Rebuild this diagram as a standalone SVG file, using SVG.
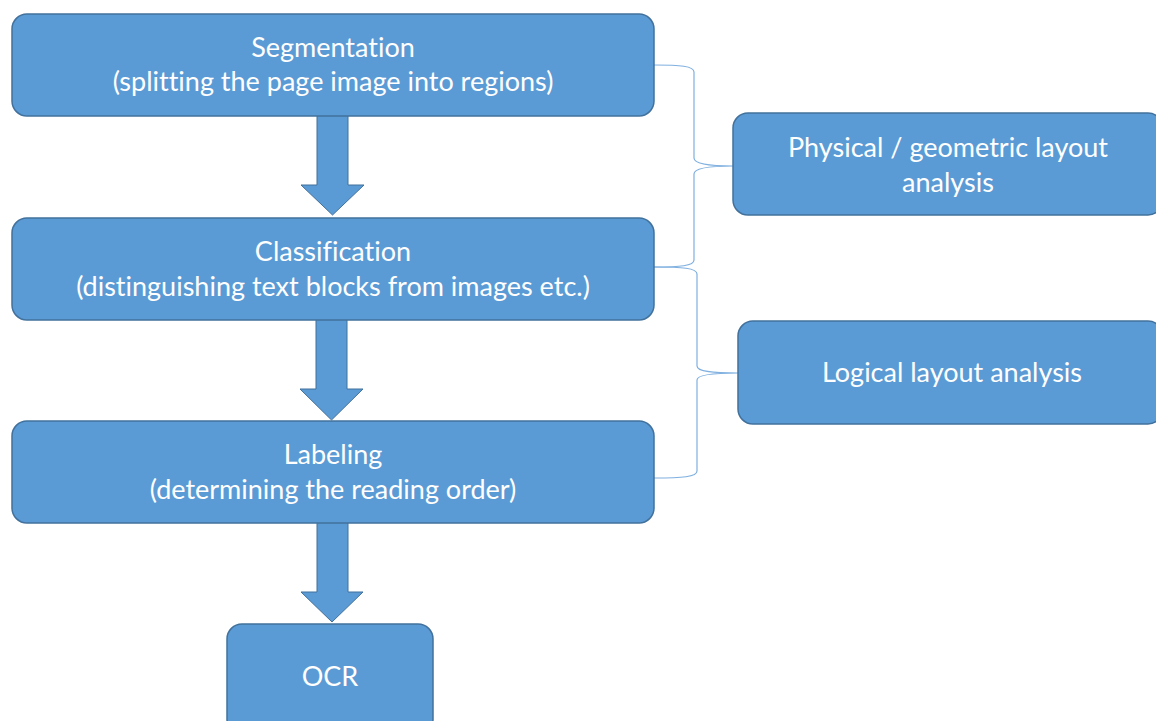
<svg xmlns="http://www.w3.org/2000/svg" width="1156" height="721" viewBox="0 0 1156 721">
  <style>
    .box { fill: #5B9BD5; stroke: #41719C; stroke-width: 1.5; }
    .arrow { fill: #5B9BD5; stroke: #41719C; stroke-width: 1; }
    .brace { fill: none; stroke: #7FB0E0; stroke-width: 1.2; }
    .label { font-family: Lato, "Open Sans", "Liberation Sans", sans-serif; font-size: 27px; fill: #FFFFFF; text-anchor: middle; font-variant-ligatures: none; }
  </style>
  <rect width="1156" height="721" fill="#FFFFFF"/>

  <g id="connectors">
    <path class="arrow" d="M317,115 L348,115 L348,185 L364,185 L332.5,215 L301,185 L317,185 Z"/>
    <path class="arrow" d="M316,319 L347,319 L347,389 L363,389 L331.5,420 L300,389 L316,389 Z"/>
    <path class="arrow" d="M317,522 L348,522 L348,592 L363,592 L332,622 L301,592 L317,592 Z"/>
    <path class="brace" d="M654,65 C680,65 694,66 694,72 L694,158 C694,164 710,166 733,166 C710,166 694,168 694,174 L694,260 C694,266 680,267 654,267"/>
    <path class="brace" d="M654,267 C682,267 697,268 697,274 L697,366 C697,372 714,373 738,373 C714,373 697,375 697,380 L697,471 C697,477 682,478 654,478"/>
  </g>

  <g id="segmentation">
    <rect class="box" x="12" y="14" width="642" height="102" rx="15"/>
    <text class="label" x="333" y="57">Segmentation</text>
    <text class="label" x="333" y="91">(splitting the page image into regions)</text>
  </g>

  <g id="classification">
    <rect class="box" x="12" y="218" width="642" height="102" rx="15"/>
    <text class="label" x="333" y="261">Classification</text>
    <text class="label" x="333" y="296">(distinguishing text blocks from images etc.)</text>
  </g>

  <g id="labeling">
    <rect class="box" x="12" y="421" width="642" height="102" rx="15"/>
    <text class="label" x="333" y="464">Labeling</text>
    <text class="label" x="333" y="499">(determining the reading order)</text>
  </g>

  <g id="ocr">
    <rect class="box" x="227" y="624" width="206" height="110" rx="15"/>
    <text class="label" x="330" y="686">OCR</text>
  </g>

  <g id="physical">
    <rect class="box" x="733" y="113" width="430" height="102" rx="15"/>
    <text class="label" x="948" y="157">Physical / geometric layout</text>
    <text class="label" x="948" y="192">analysis</text>
  </g>

  <g id="logical">
    <rect class="box" x="738" y="321" width="425" height="103" rx="15"/>
    <text class="label" x="952" y="382">Logical layout analysis</text>
  </g>
</svg>
